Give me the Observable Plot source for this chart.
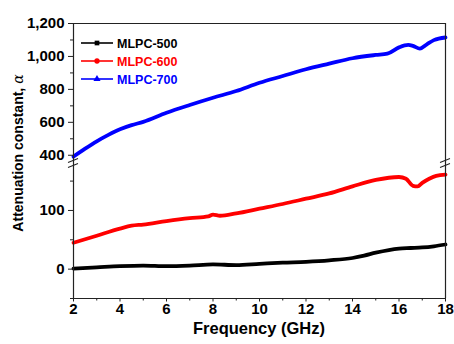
<!DOCTYPE html>
<html><head><meta charset="utf-8">
<script src="https://cdn.jsdelivr.net/npm/d3@7"></script>
<script src="https://cdn.jsdelivr.net/npm/@observablehq/plot@0.6"></script>
<style>
html,body{margin:0;padding:0;background:#fff;}
#chart{position:relative;width:454px;height:344px;overflow:hidden;font-family:"Liberation Sans",Arial,sans-serif;font-weight:bold;color:#000;}
#chart > svg{position:absolute;left:0;}
.lab{position:absolute;white-space:nowrap;font-weight:bold;}
</style></head><body><div id="chart"></div>
<script>
// ---- data ----
const seriesNames = ["MLPC-500", "MLPC-600", "MLPC-700"];
const seriesColors = ["#000000", "#ff0000", "#0000ff"];

const f500 = [2, 3, 4, 5, 6, 7, 8, 9, 10, 11, 12, 13, 14, 14.5, 15, 16, 16.5, 17, 17.5, 18];
const a500 = [1, 3, 5, 6, 5, 6, 8, 7, 9, 11, 12.5, 15, 19, 23, 28, 35, 36, 37, 39, 42];

const f600 = [2, 3, 4, 4.5, 5, 6, 7, 7.8, 8, 8.3, 9, 10, 11, 12, 13, 14, 15, 16, 16.3, 16.6, 16.8, 17, 17.3, 17.6, 18];
const a600 = [45, 57, 69, 74, 76, 82, 87, 90, 93, 91, 95, 103, 111, 120, 129, 141, 152, 157, 154, 142, 141, 147, 154, 159, 161];

const f700 = [2, 2.5, 3, 3.5, 4, 4.5, 5, 6, 7, 8, 9, 10, 11, 12, 13, 14, 15, 15.5, 16, 16.4, 16.6, 16.9, 17.2, 17.5, 18];
const a700 = [392, 440, 485, 524, 558, 583, 603, 658, 705, 749, 790, 840, 881, 922, 956, 989, 1009, 1017, 1055, 1070, 1064, 1048, 1074, 1099, 1115];

const xDomain = [2, 18];
const xTicks = [2, 4, 6, 8, 10, 12, 14, 16, 18];
const xMinor = [3, 5, 7, 9, 11, 13, 15, 17];
const upperDomain = [350, 1200];
const upperTicks = [400, 600, 800, 1000, 1200];
const upperMinor = [500, 700, 900, 1100];
const lowerDomain = [-50, 180];
const lowerTicks = [0, 100];
const lowerMinor = [-50, 50, 150];
const xLabel = "Frequency (GHz)";
const yLabel = "Attenuation constant, ";
const yLabelSym = "α";

// ---- build table ----
const rows = [];
[[f500, a500], [f600, a600], [f700, a700]].forEach(([f, a], k) => {
  f.forEach((v, i) => rows.push({f: v, a: a[i], s: seriesNames[k]}));
});
const upperRows = rows.filter(d => d.s === "MLPC-700");
const lowerRows = rows.filter(d => d.s !== "MLPC-700");

const FONT = '"Liberation Sans", Arial, sans-serif';
const W = 454, ML = 73, MR = 9;
const topH = 163, botH = 181;
const axisColor = "#222";
const style = {fontFamily: FONT, fontSize: "15px", fontWeight: "bold", background: "transparent", overflow: "visible", color: "#000"};
const colorOpt = {domain: seriesNames, range: seriesColors};

const topPlot = Plot.plot({
  width: W, height: topH, marginLeft: ML, marginRight: MR, marginTop: 23, marginBottom: 0,
  x: {domain: xDomain, axis: null},
  y: {domain: upperDomain},
  color: colorOpt,
  style,
  marks: [
    Plot.line(upperRows, {x: "f", y: "a", stroke: "s", strokeWidth: 3.8, curve: "monotone-x"}),
    Plot.ruleX(xDomain, {stroke: axisColor, strokeWidth: 1.2}),
    Plot.ruleY([upperDomain[1]], {stroke: axisColor, strokeWidth: 1.2}),
    Plot.axisY(upperTicks, {tickSize: 5, tickPadding: 4, tickFormat: d3.format(","), label: null, stroke: axisColor}),
    Plot.axisY(upperMinor, {tickSize: 3, tickFormat: () => "", label: null, stroke: axisColor})
  ]
});

const botPlot = Plot.plot({
  width: W, height: botH, marginLeft: ML, marginRight: MR, marginTop: 0, marginBottom: 46,
  x: {domain: xDomain},
  y: {domain: lowerDomain},
  color: colorOpt,
  style,
  marks: [
    Plot.line(lowerRows, {x: "f", y: "a", stroke: "s", strokeWidth: 3.8, curve: "monotone-x"}),
    Plot.ruleX(xDomain, {stroke: axisColor, strokeWidth: 1.2}),
    Plot.ruleY([lowerDomain[0]], {stroke: axisColor, strokeWidth: 1.2}),
    Plot.axisY(lowerTicks, {tickSize: 5, tickPadding: 4, tickFormat: d3.format(","), label: null, stroke: axisColor}),
    Plot.axisY(lowerMinor, {tickSize: 3, tickFormat: () => "", label: null, stroke: axisColor}),
    Plot.axisX(xTicks, {tickSize: 3.5, tickPadding: 1, label: null, stroke: axisColor}),
    Plot.axisX(xMinor, {tickSize: 2.5, tickFormat: () => "", label: null, stroke: axisColor})
  ]
});

const chart = document.getElementById("chart");
topPlot.style.top = "0px";
botPlot.style.top = topH + "px";
chart.appendChild(topPlot);
chart.appendChild(botPlot);

// positions from scales
const xs = botPlot.scale("x");
const xL = xs.apply(xDomain[0]), xR = xs.apply(xDomain[1]);
const yTop = topPlot.scale("y").apply(upperDomain[1]);
const yBot = topH + botPlot.scale("y").apply(lowerDomain[0]);

// break marks
const ns = "http://www.w3.org/2000/svg";
const ov = document.createElementNS(ns, "svg");
ov.setAttribute("width", W); ov.setAttribute("height", 344);
ov.style.position = "absolute"; ov.style.left = "0"; ov.style.top = "0";
[xL, xR].forEach(x0 => {
  [-2.6, 2.6].forEach(off => {
    const l = document.createElementNS(ns, "line");
    l.setAttribute("x1", x0 - 5); l.setAttribute("y1", topH + off + 2);
    l.setAttribute("x2", x0 + 5); l.setAttribute("y2", topH + off - 2);
    l.setAttribute("stroke", axisColor); l.setAttribute("stroke-width", 1.1);
    ov.appendChild(l);
  });
});
chart.appendChild(ov);

// legend
const lg = document.createElementNS(ns, "svg");
lg.setAttribute("width", 140); lg.setAttribute("height", 60);
lg.style.position = "absolute"; lg.style.left = (xL + 8) + "px"; lg.style.top = (yTop + 11) + "px";
seriesNames.forEach((name, i) => {
  const cy = 9 + i * 18;
  const l = document.createElementNS(ns, "line");
  l.setAttribute("x1", 0); l.setAttribute("x2", 32); l.setAttribute("y1", cy); l.setAttribute("y2", cy);
  l.setAttribute("stroke", seriesColors[i]); l.setAttribute("stroke-width", 1.6);
  lg.appendChild(l);
  const p = document.createElementNS(ns, "path");
  p.setAttribute("d", d3.symbol(i === 0 ? d3.symbolSquare : i === 1 ? d3.symbolCircle : d3.symbolTriangle, 22)());
  p.setAttribute("transform", `translate(16,${cy})`);
  p.setAttribute("fill", seriesColors[i]);
  lg.appendChild(p);
  const t = document.createElementNS(ns, "text");
  t.setAttribute("x", 36); t.setAttribute("y", cy); t.setAttribute("dy", "0.36em");
  t.setAttribute("fill", seriesColors[i]);
  t.setAttribute("font-family", FONT); t.setAttribute("font-weight", "bold"); t.setAttribute("font-size", "12.5px");
  t.textContent = name;
  lg.appendChild(t);
});
chart.appendChild(lg);

// axis labels
const xl = document.createElement("div");
xl.className = "lab"; xl.textContent = xLabel;
xl.style.fontSize = "16.5px"; xl.style.left = ((xL + xR) / 2) + "px"; xl.style.top = (yBot + 21) + "px";
xl.style.transform = "translateX(-50%)";
chart.appendChild(xl);

const yl = document.createElement("div");
yl.className = "lab";
yl.innerHTML = yLabel + '<span style="font-style:italic;font-family:\'DejaVu Serif\',serif;font-weight:normal">' + yLabelSym + '</span>';
yl.style.fontSize = "14px";
yl.style.left = "18px"; yl.style.top = "153px";
yl.style.transform = "translate(-50%,-50%) rotate(-90deg)";
chart.appendChild(yl);
</script></body></html>
